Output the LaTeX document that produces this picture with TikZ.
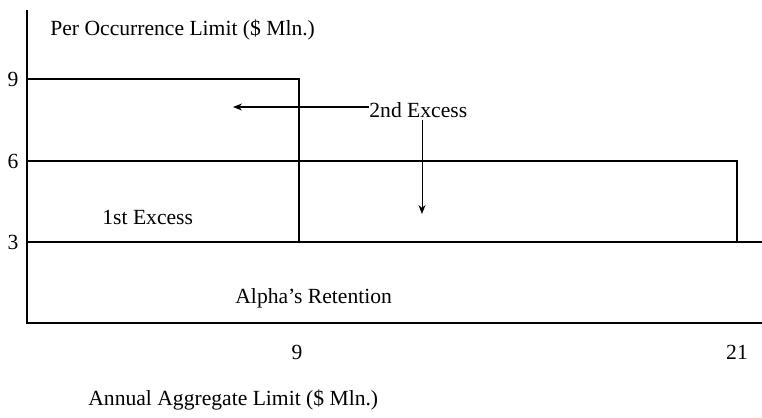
\documentclass[tikz,border=0pt]{standalone}
\usepackage{fontspec}
\setmainfont{Liberation Serif}
\usetikzlibrary{arrows.meta,positioning,calc}

\begin{document}
\begin{tikzpicture}[
    x=0.5pt, y=-0.5pt,
    lbl/.style={inner sep=0pt, font=\fontsize{10.8}{13}\selectfont},
    tick/.style={lbl, anchor=center},
    layer/.style={line width=0.75pt},
    >={Stealth[length=4.5pt,width=3.5pt]}
]
\useasboundingbox (0,0) rectangle (762,418);
% axes
\coordinate (top) at (27,10);
\coordinate (orig) at (27,323);
\coordinate (xend) at (762,323);
\draw[layer] (top) -- (orig) -- (xend);
% layers
\draw[layer] (27,79) -- (299,79) -- (299,242);
\draw[layer] (27,161) -- (737,161) -- (737,242);
\draw[layer] (27,242) -- (762,242);
% tick labels
\node[tick] (y9) at (13,79) {9};
\node[tick] (y6) at (13,161) {6};
\node[tick] (y3) at (13,242) {3};
\node[tick] (x9) at (297,352) {9};
\node[tick] (x21) at (737,352) {21};
% texts
\node[lbl, anchor=west] (ylab) at (50,30) {Per Occurrence Limit (\$ Mln.)};
\node[lbl, anchor=west] (xlab) at (88,400) {Annual Aggregate Limit (\$ Mln.)};
\node[lbl, anchor=west] (exc2) at (369,110) {2nd Excess};
\node[lbl, anchor=west] (exc1) at (102,217) {1st Excess};
\node[lbl, anchor=west] (ret) at (235,298) {Alpha’s Retention};
% arrows
\coordinate (lefttip) at (233,107);
\coordinate (downtop) at (422,120);
\coordinate (downtip) at (422,214);
\draw[->, line width=0.6pt] (exc2.west |- lefttip) -- (lefttip);
\draw[->, line width=0.5pt] (downtop) -- (downtip);
\end{tikzpicture}
\end{document}
